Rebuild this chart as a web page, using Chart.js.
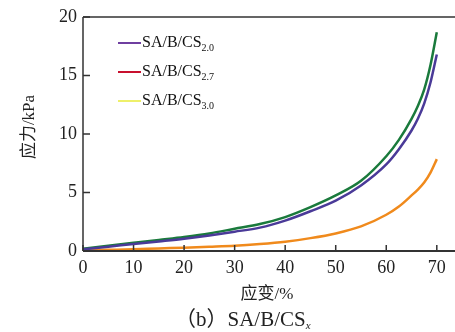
<!DOCTYPE html>
<html>
<head>
<meta charset="utf-8">
<script src="https://cdn.jsdelivr.net/npm/chart.js@4.4.1/dist/chart.umd.min.js"></script>
<style>
  html, body { margin: 0; padding: 0; background: #fff; }
  #wrap { width: 455px; height: 332px; position: relative; }
</style>
</head>
<body>
<div id="wrap"><canvas id="chart" width="455" height="332"></canvas></div>
<script>
// strain (%) sample points and stress (kPa)
const strain = [0, 5, 10, 15, 20, 25, 30, 35, 40, 45, 50, 55, 60, 62.5, 65, 66.25, 67.5, 68.75, 70];
const cs20 = [0.15, 0.37, 0.6, 0.82, 1.05, 1.33, 1.65, 2.0, 2.6, 3.4, 4.3, 5.6, 7.4, 8.7, 10.3, 11.3, 12.6, 14.4, 16.8];
const cs27 = [0.2, 0.45, 0.7, 0.95, 1.2, 1.5, 1.9, 2.3, 2.9, 3.75, 4.75, 6.0, 8.1, 9.5, 11.3, 12.4, 13.8, 15.9, 18.7];
const cs30 = [0.05, 0.1, 0.15, 0.22, 0.28, 0.36, 0.45, 0.6, 0.8, 1.1, 1.5, 2.1, 3.1, 3.8, 4.75, 5.25, 5.85, 6.7, 7.85];

const xTicks = [0, 10, 20, 30, 40, 50, 60, 70];
const yTicks = [0, 5, 10, 15, 20];

const legendNames = ['SA/B/CS', 'SA/B/CS', 'SA/B/CS'];
const legendSubs = ['2.0', '2.7', '3.0'];
const legendColors = ['#6f3fa0', '#c8102e', '#eef06a'];

const SERIF = '"Liberation Serif", "Times New Roman", serif';
const CJK = '"Liberation Serif", "Noto Sans CJK SC", serif';

function pts(ys) {
  return strain.map((x, i) => ({ x, y: ys[i] }));
}

// inward ticks, axis titles, caption and the subscript legend
const decor = {
  id: 'decor',
  afterDraw(chart) {
    const ctx = chart.ctx;
    const a = chart.chartArea;
    const xs = chart.scales.x;
    const ys = chart.scales.y;
    ctx.save();
    ctx.strokeStyle = '#333';
    ctx.lineWidth = 1.5;
    ctx.beginPath();
    ctx.moveTo(a.left, a.top);
    ctx.lineTo(a.right + 5, a.top);
    ctx.moveTo(a.left, a.top);
    ctx.lineTo(a.left, a.bottom);
    ctx.stroke();
    ctx.lineWidth = 2;
    ctx.beginPath();
    ctx.moveTo(a.left, a.bottom);
    ctx.lineTo(a.right + 5, a.bottom);
    ctx.stroke();
    ctx.lineWidth = 1.5;
    ctx.beginPath();
    xTicks.forEach((v) => {
      const p = xs.getPixelForValue(v);
      ctx.moveTo(p, a.bottom);
      ctx.lineTo(p, a.bottom - 6);
    });
    yTicks.forEach((v) => {
      const p = ys.getPixelForValue(v);
      ctx.moveTo(a.left, p);
      ctx.lineTo(a.left + 7, p);
    });
    ctx.stroke();

    ctx.fillStyle = '#222';
    ctx.textAlign = 'center';
    ctx.textBaseline = 'middle';
    ctx.font = '17px ' + CJK;
    ctx.fillText('应变/%', 267, 295);
    ctx.save();
    ctx.translate(30, 127);
    ctx.rotate(-Math.PI / 2);
    ctx.fillText('应力/kPa', 0, 0);
    ctx.restore();

    // caption
    ctx.font = '21px ' + CJK;
    ctx.textAlign = 'left';
    const cap = '（b）SA/B/CS';
    const cw = ctx.measureText(cap).width;
    const cx = 175;
    ctx.fillText(cap, cx, 320);
    ctx.font = 'italic 11px ' + SERIF;
    ctx.fillText('x', cx + cw, 326);

    // legend
    legendNames.forEach((name, i) => {
      const y = 43 + i * 29;
      ctx.strokeStyle = legendColors[i];
      ctx.lineWidth = 2;
      ctx.beginPath();
      ctx.moveTo(118, y);
      ctx.lineTo(141, y);
      ctx.stroke();
      ctx.fillStyle = '#111';
      ctx.font = '16px ' + SERIF;
      ctx.textAlign = 'left';
      ctx.fillText(name, 142, y);
      const w = ctx.measureText(name).width;
      ctx.font = '10px ' + SERIF;
      ctx.fillText(legendSubs[i], 142 + w, y + 5);
    });
    ctx.restore();
  },
};

const lineOpts = { fill: false, pointRadius: 0, borderWidth: 2.5, cubicInterpolationMode: 'monotone' };

new Chart(document.getElementById('chart'), {
  type: 'line',
  data: {
    datasets: [
      { ...lineOpts, label: 'SA/B/CS2.0', data: pts(cs20), borderColor: '#4a3a98' },
      { ...lineOpts, label: 'SA/B/CS2.7', data: pts(cs27), borderColor: '#1a7a3c' },
      { ...lineOpts, label: 'SA/B/CS3.0', data: pts(cs30), borderColor: '#f08a1c' },
    ],
  },
  options: {
    responsive: false,
    animation: false,
    clip: false,
    layout: { padding: { top: 17, right: 0, left: 0, bottom: 0 } },
    plugins: { legend: { display: false }, tooltip: { enabled: false } },
    scales: {
      x: {
        type: 'linear',
        min: 0,
        max: 73.6,
        afterBuildTicks: (s) => { s.ticks = xTicks.map((v) => ({ value: v })); },
        afterFit: (s) => { s.height = 81; },
        grid: { display: false, drawTicks: false },
        border: { display: false },
        ticks: { color: '#222', font: { family: SERIF, size: 18 }, padding: 6, maxRotation: 0 },
      },
      y: {
        min: 0,
        max: 20,
        afterBuildTicks: (s) => { s.ticks = yTicks.map((v) => ({ value: v })); },
        afterFit: (s) => { s.width = 83; },
        grid: { display: false, drawTicks: false },
        border: { display: false },
        ticks: { color: '#222', font: { family: SERIF, size: 18 }, padding: 6 },
      },
    },
  },
  plugins: [decor],
});
</script>
</body>
</html>
